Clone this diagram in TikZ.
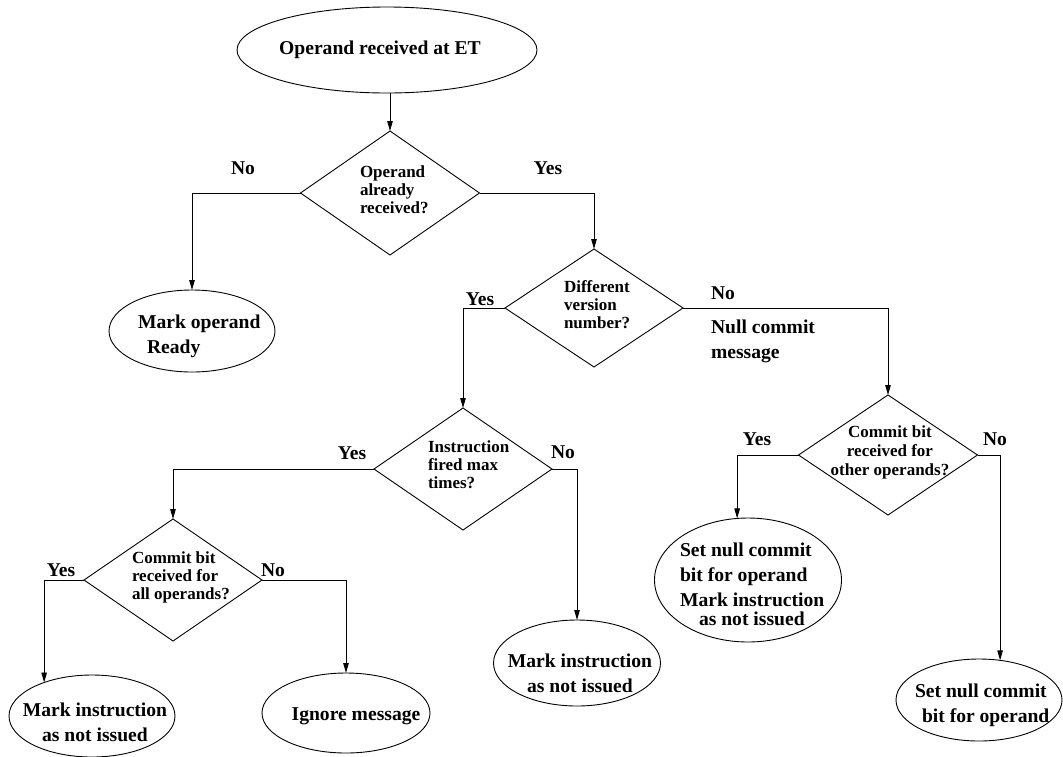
\documentclass[tikz,border=0pt]{standalone}
\usepackage{fontspec}
\setmainfont{Liberation Serif}
\usetikzlibrary{shapes.geometric,arrows.meta}
\begin{document}
\begin{tikzpicture}[x=1pt,y=-1pt,
  every node/.style={inner sep=0pt, outer sep=0pt},
  arr/.style={line width=0.9pt, -{Triangle[length=10pt,width=5.5pt]}},
  oval/.style={ellipse, draw, line width=0.9pt, inner sep=0pt},
  dia/.style={diamond, draw, line width=0.9pt, inner sep=0pt},
  big/.style={font=\fontsize{19.6}{25}\selectfont\bfseries},
  small/.style={font=\fontsize{17}{18}\selectfont\bfseries},
  lab/.style={font=\fontsize{19.5}{24}\selectfont\bfseries},
]
\useasboundingbox (0,0) rectangle (1063,756);

% ellipses
\node[oval, minimum width=300pt, minimum height=86pt] (e0) at (387,50) {};
\node[oval, minimum width=166pt, minimum height=82pt] (e1) at (192,331) {};
\node[oval, minimum width=167pt, minimum height=86pt] (e2) at (577,663) {};
\node[oval, minimum width=166pt, minimum height=82pt] (e3) at (92,716) {};
\node[oval, minimum width=168pt, minimum height=80pt] (e4) at (346,713) {};
\node[oval, minimum width=187pt, minimum height=124pt] (e5) at (748,580) {};
\node[oval, minimum width=166pt, minimum height=82pt] (e6) at (979,700) {};

% diamonds
\node[dia, minimum width=179pt, minimum height=124pt] (d1) at (390,193) {};
\node[dia, minimum width=178pt, minimum height=118pt] (d2) at (594,308) {};
\node[dia, minimum width=178pt, minimum height=122pt] (d3) at (463,469) {};
\node[dia, minimum width=179pt, minimum height=120pt] (d4) at (888,455) {};
\node[dia, minimum width=178pt, minimum height=122pt] (d5) at (173,580) {};

% texts in ellipses
\node[big] (t0) at (380,50) {Operand received at ET};
\node[big, align=left, anchor=west] (t6) at (138,336) {Mark operand\\\hspace*{9pt}Ready};
\node[big, align=center] (t8) at (580,673) {Mark instruction\\as not issued};
\node[big, align=center] (t9) at (95,722) {Mark instruction\\as not issued};
\node[big] (t10) at (356,716) {Ignore message};
\node[big, align=left, anchor=west] (t11) at (680,584) {Set null commit\\bit for operand\\Mark instruction\\[-6pt]\hspace*{19pt}as not issued};
\node[big, align=left, anchor=west] (t12) at (915,705) {Set null commit\\\hspace*{7pt}bit for operand};

% texts in diamonds
\node[small, align=left, anchor=west] (t1) at (360,190) {Operand\\already\\received?};
\node[small, align=left, anchor=west] (t2) at (564,305) {Different\\version\\number?};
\node[small, align=left, anchor=west] (t3) at (428,465) {Instruction\\fired max\\times?};
\node[small, align=left, anchor=west] (t4) at (132,577) {Commit bit\\received for\\all operands?};
\node[font=\fontsize{17}{19}\selectfont\bfseries, align=center] (t5) at (890,452) {Commit bit\\received for\\other operands?};

% branch labels
\node[lab] (l1) at (243,168) {No};
\node[lab] (l2) at (548,168) {Yes};
\node[lab] (l3) at (480,299) {Yes};
\node[lab] (l4) at (723,293) {No};
\node[big, align=left, anchor=west] (l5) at (711,341) {Null commit\\message};
\node[lab] (l6) at (352,453) {Yes};
\node[lab] (l7) at (563,452) {No};
\node[lab] (l8) at (61,570) {Yes};
\node[lab] (l9) at (273,570) {No};
\node[lab] (l10) at (757,439) {Yes};
\node[lab] (l11) at (995,439) {No};

% connectors
\draw[arr] (e0.south -| d1.north) -- (d1.north);
\draw[arr] (d1.west) -| (e1.north);
\draw[arr] (d1.east) -| (d2.north);
\draw[arr] (d2.west) -| (d3.north);
\draw[arr] (d2.east) -| (d4.north);
\draw[arr] (d3.west) -| (d5.north);
\draw[arr] (d3.east) -| (e2.north);
\draw[arr] (d5.west) -| (e3.145);
\draw[arr] (d5.east) -| (e4.north);
\draw[arr] (d4.west) -| (e5.100);
\draw[arr] (d4.east) -| (e6.62);
\end{tikzpicture}
\end{document}
